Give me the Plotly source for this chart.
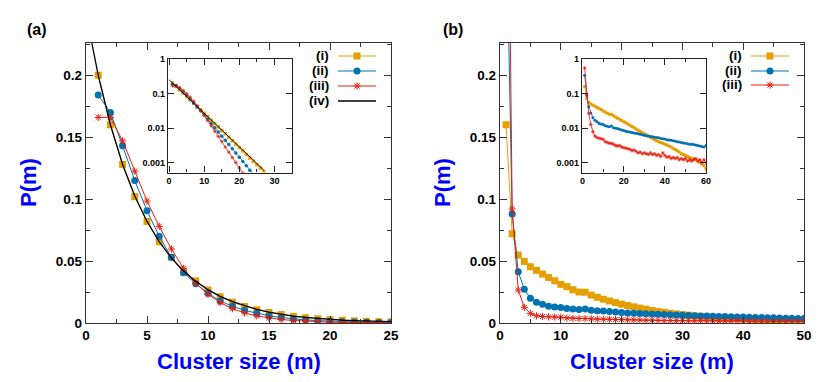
import plotly.graph_objects as go

# ---------------- data ----------------
m_a = list(range(1, 28))
pa_i = [0.200, 0.160, 0.128, 0.102, 0.082, 0.0655, 0.053, 0.041, 0.034, 0.0266, 0.0212, 0.0168,
        0.0134, 0.0107, 0.0085, 0.0068, 0.0054, 0.0043, 0.0034, 0.0027, 0.0022, 0.0017, 0.00135,
        0.00108, 0.00086, 0.00069, 0.00055]
pa_ii = [0.184, 0.170, 0.143, 0.115, 0.0906, 0.070, 0.053, 0.0406, 0.0317, 0.0240, 0.0178, 0.0135,
         0.0102, 0.0077, 0.0058, 0.0044, 0.0033, 0.0025, 0.0019, 0.00142, 0.00106, 0.0008, 0.0006,
         0.00045, 0.00034, 0.00026, 0.0002]
pa_iii = [0.166, 0.166, 0.147, 0.1226, 0.0984, 0.078, 0.0597, 0.0441, 0.032, 0.0232, 0.0165, 0.0116,
          0.0081, 0.0057, 0.004, 0.0028, 0.002, 0.0014, 0.001, 0.0007, 0.0005, 0.00035, 0.00025,
          0.00018, 0.00012, 0.00009, 0.00006]
m_iv = list(range(0, 28))
pa_iv = [0.25, 0.2, 0.16, 0.128, 0.1025, 0.082, 0.0656, 0.0525, 0.042, 0.0336, 0.0269, 0.0215, 0.0172,
         0.0138, 0.011, 0.0088, 0.007, 0.0056, 0.0045, 0.0036, 0.0029, 0.0023, 0.00185, 0.00148,
         0.00118, 0.00095, 0.00076, 0.0006]

m_b = list(range(1, 61))
pb_i = [0.16, 0.072, 0.0548, 0.0497, 0.0454, 0.0425, 0.0395, 0.0368, 0.0341, 0.0312, 0.0293, 0.0268,
        0.0250, 0.0248, 0.0225, 0.0208, 0.0192, 0.0178, 0.0165, 0.0152, 0.0141, 0.0130, 0.0120,
        0.0111, 0.0101, 0.0093, 0.0086, 0.0079, 0.0073, 0.0068, 0.0063, 0.0058, 0.0054, 0.0050,
        0.0046, 0.0043, 0.0040, 0.0038, 0.0036, 0.0034, 0.0032, 0.0030, 0.0028, 0.0026, 0.0024,
        0.0022, 0.0020, 0.0018, 0.0017, 0.0016, 0.0015, 0.0014, 0.0013, 0.0013, 0.0012, 0.0011,
        0.0010, 0.0009, 0.0008, 0.00065]
pb_ii = [0.34, 0.088, 0.0414, 0.0272, 0.0199, 0.0167, 0.0152, 0.0136, 0.0130, 0.0126, 0.0117, 0.0112,
         0.0108, 0.0114, 0.0102, 0.0098, 0.0096, 0.0092, 0.0088, 0.0084, 0.0080, 0.0078, 0.0076,
         0.0074, 0.0072, 0.0070, 0.0068, 0.0066, 0.0064, 0.0062, 0.0060, 0.0059, 0.0057, 0.0056,
         0.0054, 0.0053, 0.0052, 0.0050, 0.0049, 0.0048, 0.0046, 0.0045, 0.0044, 0.0043, 0.0042,
         0.0040, 0.0039, 0.0038, 0.0037, 0.0036, 0.0035, 0.0034, 0.0034, 0.0033, 0.0032, 0.0031,
         0.0030, 0.0029, 0.0028, 0.0031]
pb_iii = [0.55, 0.092, 0.0266, 0.0126, 0.0078, 0.0058, 0.0053, 0.0050, 0.0049, 0.0047, 0.0040, 0.0038,
          0.0036, 0.0036, 0.0034, 0.0031, 0.0030, 0.0031, 0.0028, 0.0027, 0.0026, 0.0025, 0.0024,
          0.0022, 0.0023, 0.0021, 0.0019, 0.0020, 0.0018, 0.0019, 0.0018, 0.0017, 0.0019, 0.0017,
          0.0018, 0.0016, 0.0017, 0.0015, 0.0019, 0.0016, 0.0014, 0.0015, 0.0013, 0.0014, 0.0013,
          0.0014, 0.0012, 0.0013, 0.0012, 0.0013, 0.0011, 0.0012, 0.0011, 0.0012, 0.0013, 0.0011,
          0.0012, 0.0010, 0.0012, 0.0010]

labels_a = ["(i)", "(ii)", "(iii)", "(iv)"]
labels_b = ["(i)", "(ii)", "(iii)"]
log_ticks = [0.001, 0.01, 0.1, 1]
log_ticktext = ["0.001", "0.01", "0.1", "1"]

# ---------------- style ----------------
W, H = 830, 382
ORANGE = "#e69f00"
BLUE = "#0072b2"
RED = "#e51e10"
BLACK = "#000000"
TITLE_BLUE = "#0000ff"
FONT = "Liberation Sans, Arial, sans-serif"

def px(x0, x1):
    return [x0 / W, x1 / W]

def py(top, bottom):
    return [1 - bottom / H, 1 - top / H]

fig = go.Figure()

def series(x, y, color, symbol, size, xa, ya, lw=1.0, mlw=1.0):
    if symbol is None:
        return go.Scatter(x=x, y=y, xaxis=xa, yaxis=ya, mode="lines", showlegend=False,
                          line=dict(color=color, width=lw), hoverinfo="skip")
    mk = dict(symbol=symbol, size=size, color=color)
    if "open" in symbol:
        mk["line"] = dict(color=color, width=mlw)
    return go.Scatter(x=x, y=y, xaxis=xa, yaxis=ya, mode="lines+markers", showlegend=False,
                      line=dict(color=color, width=lw), marker=mk, hoverinfo="skip")

# main (a)
fig.add_trace(series(m_a, pa_i, ORANGE, "square", 7, "x", "y"))
fig.add_trace(series(m_a, pa_ii, BLUE, "circle", 7, "x", "y"))
fig.add_trace(series(m_a, pa_iii, RED, "asterisk-open", 6, "x", "y"))
fig.add_trace(series(m_iv, pa_iv, BLACK, None, 0, "x", "y", lw=1.3))
# inset (a)
fig.add_trace(series(m_a, pa_i, ORANGE, "square", 3.5, "x3", "y3", lw=0.8))
fig.add_trace(series(m_a, pa_ii, BLUE, "circle", 3.5, "x3", "y3", lw=0.8))
fig.add_trace(series(m_a, pa_iii, RED, "asterisk-open", 3, "x3", "y3", lw=0.8, mlw=0.7))
fig.add_trace(series(m_iv, pa_iv, BLACK, None, 0, "x3", "y3", lw=0.9))
# main (b)
fig.add_trace(series(m_b, pb_i, ORANGE, "square", 7, "x2", "y2"))
fig.add_trace(series(m_b, pb_ii, BLUE, "circle", 7, "x2", "y2"))
fig.add_trace(series(m_b, pb_iii, RED, "asterisk-open", 6, "x2", "y2"))
# inset (b)
fig.add_trace(series(m_b, pb_i, ORANGE, "square", 3, "x4", "y4", lw=0.8))
fig.add_trace(series(m_b, pb_ii, BLUE, "circle", 3, "x4", "y4", lw=0.8))
fig.add_trace(series(m_b, pb_iii, RED, "asterisk-open", 3, "x4", "y4", lw=0.8, mlw=0.7))

# legend keys (a) on x5/y5, (b) on x6/y6 (y axis in pixel-row units)
leg_rows_a = [56, 71, 86, 101]
leg_rows_b = [56, 71, 85]
leg_a_style = [(ORANGE, "square"), (BLUE, "circle"), (RED, "asterisk-open"), (BLACK, None)]
for (c, s), r in zip(leg_a_style, leg_rows_a):
    fig.add_trace(go.Scatter(x=[0, 1], y=[r, r], xaxis="x5", yaxis="y5", mode="lines",
                             line=dict(color=c, width=1.0 if s else 1.3), showlegend=False, hoverinfo="skip"))
    if s:
        mk = dict(symbol=s, size=7 if "open" not in s else 6, color=c)
        if "open" in s:
            mk["line"] = dict(color=c, width=1.0)
        fig.add_trace(go.Scatter(x=[0.5], y=[r], xaxis="x5", yaxis="y5", mode="markers",
                                 marker=mk, showlegend=False, hoverinfo="skip"))
for (c, s), r in zip(leg_a_style[:3], leg_rows_b):
    fig.add_trace(go.Scatter(x=[0, 1], y=[r, r], xaxis="x6", yaxis="y6", mode="lines",
                             line=dict(color=c, width=1.0), showlegend=False, hoverinfo="skip"))
    mk = dict(symbol=s, size=7 if "open" not in s else 6, color=c)
    if "open" in s:
        mk["line"] = dict(color=c, width=1.0)
    fig.add_trace(go.Scatter(x=[0.5], y=[r], xaxis="x6", yaxis="y6", mode="markers",
                             marker=mk, showlegend=False, hoverinfo="skip"))

tickfont_main = dict(family=FONT, size=13.5, color="black", weight="bold")
tickfont_inset = dict(family=FONT, size=9, color="black", weight="bold")
axline = dict(showline=True, linecolor="#333333", linewidth=1.4, mirror="ticks", showgrid=False,
              zeroline=False, ticks="inside", tickcolor="#333333", tickwidth=1.2, automargin=False)
inline = dict(showline=True, linecolor="#222222", linewidth=1.2, mirror="ticks", showgrid=False,
              zeroline=False, ticks="inside", tickcolor="#222222", tickwidth=1.1, automargin=False)

main_dom_y = py(43, 323)
inset_dom_y = py(59, 172.5)

layout = dict(
    template="none",
    width=W, height=H, margin=dict(l=0, r=0, t=0, b=0, pad=0),
    paper_bgcolor="white", plot_bgcolor="rgba(0,0,0,0)",
    font=dict(family=FONT),
    xaxis=dict(domain=px(86, 391), range=[0, 25], tick0=0, dtick=5, ticklen=7,
               minor=dict(ticks="inside", dtick=2.5, ticklen=4, tickcolor="#333333"),
               tickfont=tickfont_main, anchor="y", **axline),
    yaxis=dict(domain=main_dom_y, range=[0, 0.226], tick0=0, dtick=0.05, ticklen=7,
               minor=dict(ticks="inside", dtick=0.025, ticklen=4, tickcolor="#333333"),
               tickfont=tickfont_main, anchor="x", **axline),
    xaxis2=dict(domain=px(500, 804), range=[0, 50], tick0=0, dtick=10, ticklen=7,
                minor=dict(ticks="inside", dtick=5, ticklen=4, tickcolor="#333333"),
                tickfont=tickfont_main, anchor="y2", **axline),
    yaxis2=dict(domain=main_dom_y, range=[0, 0.226], tick0=0, dtick=0.05, ticklen=7,
                minor=dict(ticks="inside", dtick=0.025, ticklen=4, tickcolor="#333333"),
                tickfont=tickfont_main, anchor="x2", **axline),
    xaxis3=dict(domain=px(168, 292), range=[-0.3, 35], tick0=0, dtick=10, ticklen=6,
                minor=dict(ticks="inside", dtick=5, ticklen=3, tickcolor="#222222"),
                tickfont=tickfont_inset, anchor="y3", **inline),
    yaxis3=dict(domain=inset_dom_y, type="log", range=[-3.29, 0], tickvals=log_ticks,
                ticktext=log_ticktext, ticklen=6, tickfont=tickfont_inset, anchor="x3", **inline),
    xaxis4=dict(domain=px(582, 706), range=[-0.3, 60], tick0=0, dtick=20, ticklen=6,
                minor=dict(ticks="inside", dtick=10, ticklen=3, tickcolor="#222222"),
                tickfont=tickfont_inset, anchor="y4", **inline),
    yaxis4=dict(domain=inset_dom_y, type="log", range=[-3.29, 0], tickvals=log_ticks,
                ticktext=log_ticktext, ticklen=6, tickfont=tickfont_inset, anchor="x4", **inline),
    xaxis5=dict(domain=px(338, 376), range=[0, 1], visible=False, anchor="y5", automargin=False),
    yaxis5=dict(domain=py(46, 110), range=[110, 46], visible=False, anchor="x5", automargin=False),
    xaxis6=dict(domain=px(751, 789), range=[0, 1], visible=False, anchor="y6", automargin=False),
    yaxis6=dict(domain=py(46, 110), range=[110, 46], visible=False, anchor="x6", automargin=False),
)
fig.update_layout(**layout)

ann = []
lab_font = dict(family=FONT, size=13.5, color="black", weight="bold")
for t, r in zip(labels_a, leg_rows_a):
    ann.append(dict(text=t, x=331 / W, xref="paper", y=r, yref="y5", xanchor="right",
                    yanchor="middle", showarrow=False, font=lab_font))
for t, r in zip(labels_b, leg_rows_b):
    ann.append(dict(text=t, x=744 / W, xref="paper", y=r, yref="y6", xanchor="right",
                    yanchor="middle", showarrow=False, font=lab_font))
title_font = dict(family=FONT, size=22, color=TITLE_BLUE, weight="bold")
ann.append(dict(text="P(m)", x=28 / W, y=1 - 183 / H, xref="paper", yref="paper", textangle=-90,
                showarrow=False, font=title_font, xanchor="center", yanchor="middle"))
ann.append(dict(text="P(m)", x=442 / W, y=1 - 183 / H, xref="paper", yref="paper", textangle=-90,
                showarrow=False, font=title_font, xanchor="center", yanchor="middle"))
ann.append(dict(text="Cluster size (m)", x=238.5 / W, y=1 - 361 / H, xref="paper", yref="paper",
                showarrow=False, font=title_font, xanchor="center", yanchor="middle"))
ann.append(dict(text="Cluster size (m)", x=652 / W, y=1 - 361 / H, xref="paper", yref="paper",
                showarrow=False, font=title_font, xanchor="center", yanchor="middle"))
panel_font = dict(family=FONT, size=16, color="black", weight="bold")
ann.append(dict(text="(a)", x=37 / W, y=1 - 29 / H, xref="paper", yref="paper", showarrow=False,
                font=panel_font, xanchor="center", yanchor="middle"))
ann.append(dict(text="(b)", x=453 / W, y=1 - 29 / H, xref="paper", yref="paper", showarrow=False,
                font=panel_font, xanchor="center", yanchor="middle"))
fig.update_layout(annotations=ann)

fig.write_html("out.html", config={"displayModeBar": False},
               post_script="document.body.style.margin='0';document.body.style.overflow='hidden';")
